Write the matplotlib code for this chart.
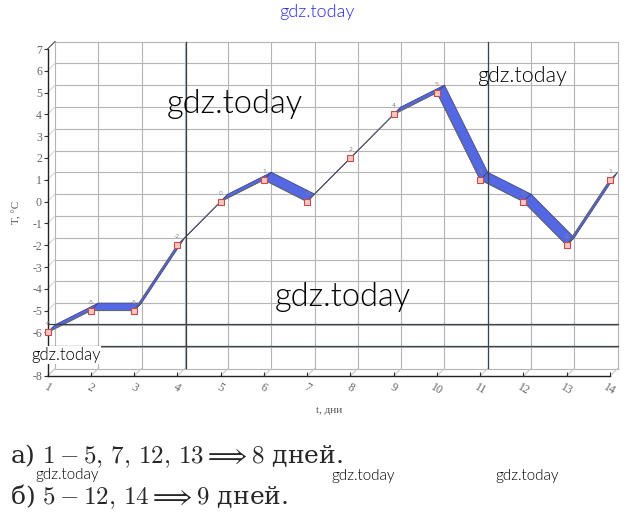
import matplotlib
matplotlib.use("Agg")
import matplotlib.pyplot as plt
from matplotlib.lines import Line2D
from matplotlib.patches import Polygon
import matplotlib.transforms as mtransforms
import numpy as np

days = list(range(1, 15))
temps = [-6, -5, -5, -2, 0, 1, 0, 2, 4, 5, 1, 0, -2, 1]
y_ticks = list(range(-8, 8))
x_label = "t, дни"
y_label = "T, °C"
answer_a = r"а) $1 - 5,\,7,\,12,\,13 \Longrightarrow 8$ дней."
answer_b = r"б) $5 - 12,\,14 \Longrightarrow 9$ дней."
wm = "gdz.today"

plt.rcParams['mathtext.fontset'] = 'cm'

W, H = 634, 521
fig = plt.figure(figsize=(W / 100, H / 100), dpi=100)
L, R, T, B = 47.5, 610, 49, 376
ax = fig.add_axes([L / W, 1 - B / H, (R - L) / W, (B - T) / H])
ax.set_xlim(1, 14)
ax.set_ylim(-8, 7)
ax.patch.set_alpha(0)

DX, DY = 7.5, 7.5  # depth offset in pixels
off = mtransforms.ScaledTranslation(DX / 100, DY / 100, fig.dpi_scale_trans)
back = ax.transData + off

gc = '#b4b4b4'
for yv in y_ticks:
    ax.add_line(Line2D([1, 14], [yv, yv], transform=back, color=gc, lw=0.8, clip_on=False, zorder=1))
for xv in days:
    ax.add_line(Line2D([xv, xv], [-8, 7], transform=back, color=gc, lw=0.8, clip_on=False, zorder=1))

def to_back(px, py):
    d = ax.transData.transform((px, py)) + np.array([DX, DY])
    return ax.transData.inverted().transform(d)

for xv in days:
    bx, by = to_back(xv, -8)
    ax.add_line(Line2D([xv, bx], [-8, by], color='#c8c8c8', lw=0.8, clip_on=False, zorder=1))
for yv in y_ticks:
    bx, by = to_back(1, yv)
    ax.add_line(Line2D([1, bx], [yv, by], color='#d2d2d2', lw=0.7, clip_on=False, zorder=1))
bx, by = to_back(1, 7)
ax.add_line(Line2D([1, bx], [7, by], color='#555555', lw=0.8, clip_on=False, zorder=2))

# ribbon faces
for i in range(len(days) - 1):
    p1 = np.array([days[i], temps[i]], float)
    p2 = np.array([days[i + 1], temps[i + 1]], float)
    q1 = to_back(*p1)
    q2 = to_back(*p2)
    poly = Polygon([p1, p2, q2, q1], closed=True, facecolor='#5468e4',
                   edgecolor='#3d4680', lw=0.6, zorder=3, clip_on=False)
    ax.add_patch(poly)

ax.plot(days, temps, color='#6a6a6a', lw=0.7, zorder=4, clip_on=False)
ax.plot(days, temps, ls='none', marker='s', ms=4.5, mfc='#f2c8c2', mec='#c84a4a',
        mew=0.8, zorder=5, clip_on=False)
for xv, tv in zip(days, temps):
    ax.annotate(str(tv), (xv, tv), xytext=(0, 5), textcoords='offset points',
                fontsize=4.5, color='#888888', ha='center', zorder=6)

for s in ['top', 'right']:
    ax.spines[s].set_visible(False)
for s in ['left', 'bottom']:
    ax.spines[s].set_color('#222222')
    ax.spines[s].set_linewidth(1.0)
ax.set_xticks(days)
ax.set_yticks(y_ticks)
ax.set_xticklabels([str(d) for d in days], rotation=-30, fontsize=8.5,
                   family='Liberation Serif', color='#666666')
ax.set_yticklabels([str(v) for v in y_ticks], fontsize=8.5,
                   family='Liberation Serif', color='#666666')
ax.tick_params(axis='y', direction='out', length=3, width=0.8, color='#333333', pad=1)
ax.tick_params(axis='x', direction='in', length=3, width=0.8, color='#333333', pad=4)
ax.set_xlabel(x_label, fontsize=8, family='Liberation Serif', color='#555555', labelpad=6)
ax.set_ylabel(y_label, fontsize=8, family='Liberation Serif', color='#555555', labelpad=8)

def fl(x0, y0, x1, y1):
    fig.add_artist(Line2D([x0 / W, x1 / W], [1 - y0 / H, 1 - y1 / H],
                          transform=fig.transFigure, color='#3a4448', lw=0.9, zorder=2))
fl(186, 42, 186, 368)
fl(488, 42, 488, 368)
fl(48, 324, 618, 324)
fl(48, 346, 618, 346)

wmf = ['Lato', 'DejaVu Sans']
def wmark(x, y, size, color='#000000', bg=False):
    t = fig.text(x / W, 1 - y / H, wm, fontsize=size, color=color, ha='center', va='center',
                 family=wmf, fontweight=300, zorder=10)
    if bg:
        t.set_bbox(dict(facecolor='white', edgecolor='none', pad=0.5))
wmark(317, 12, 13, '#2a2ae8')
wmark(235, 104, 23.5)
wmark(522, 76, 15.5)
wmark(343, 297, 23.5)
wmark(66, 355, 12, bg=True)
wmark(67, 475, 11)
wmark(363, 476, 11)
wmark(527, 476, 11)

fig.text(10 / W, 1 - 463 / H, answer_a, fontsize=18, family='DejaVu Serif',
         color='#262626', ha='left', va='baseline')
fig.text(10 / W, 1 - 504 / H, answer_b, fontsize=18, family='DejaVu Serif',
         color='#262626', ha='left', va='baseline')

fig.savefig('out.png', dpi=100)
